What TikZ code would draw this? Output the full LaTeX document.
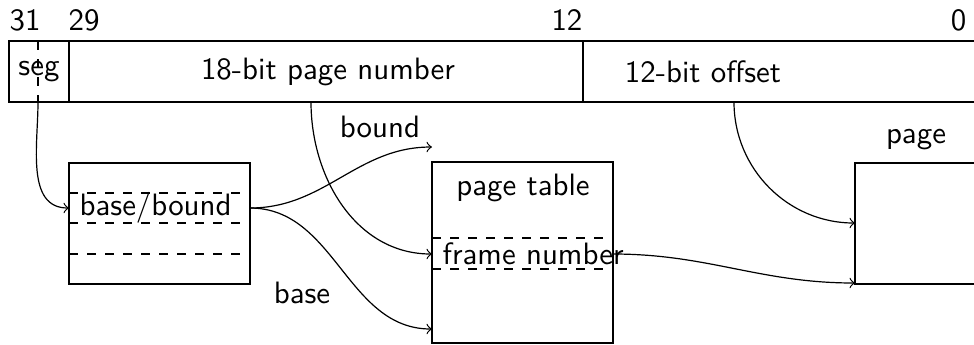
\documentclass[tikz,border=0pt]{standalone}
\usepackage{fontspec}
\begin{document}
\begin{tikzpicture}[x=0.33333pt,y=-0.33333pt,font=\sffamily\fontsize{10.3}{12.4}\selectfont,
  boxline/.style={draw=black,line width=0.4pt},
  rowline/.style={draw=black,dashed,line width=0.4pt},
  link/.style={->,line width=0.4pt},
  num/.style={inner sep=0pt},
  txt/.style={inner sep=3.33pt}]
\useasboundingbox (0,0) rectangle (974,344);
\begin{scope}
\clip (0,0) rectangle (974,344);
% address bar
\draw[boxline] (9,41) rectangle (1000,102);
\draw[boxline] (69,41) -- (69,102);
\draw[boxline] (583,41) -- (583,102);
\draw[rowline] (38,41) -- (38,102);
% base/bound table
\draw[boxline] (69,163) rectangle (250,284);
\draw[rowline] (69,193) -- (250,193);
\draw[rowline] (69,223) -- (250,223);
\draw[rowline] (69,254) -- (250,254);
% page table
\draw[boxline] (432,162) rectangle (613,343);
\draw[rowline] (432,238) -- (613,238);
\draw[rowline] (432,269) -- (613,269);
% page
\draw[boxline] (855,163) rectangle (1000,284);
\end{scope}
% bit numbers
\node[num,anchor=base west] (b31) at (9,30) {31};
\node[num,anchor=base west] (b29) at (68,30) {29};
\node[num,anchor=base east] (b12) at (583,30) {12};
\node[num,anchor=base east] (b0) at (967,30) {0};
% field texts
\node[txt] (seg) at (39,72) {seg};
\node[txt] (pn) at (328,72) {18-bit page number};
\node[txt] (off) at (703,72) {12-bit offset};
% other labels
\node[txt] (bb) [anchor=west] at (69,208) {base/bound};
\node[txt] (fn) [anchor=west] at (432,254) {frame number};
\node[txt] (pt) at (523,188) {page table};
\node[txt] (pg) at (916,140) {page};
\node[txt] (boundl) at (380,127) {bound};
\node[txt] (basel) at (302,293) {base};
% connector end points
\coordinate (segout) at (38,102);
\coordinate (pnout) at (311,102);
\coordinate (offout) at (734,102);
\coordinate (bbR) at (250,208);
\coordinate (boundtip) at (432,147);
\coordinate (basetip) at (432,329);
\coordinate (ptR) at (613,254);
\coordinate (pageA) at (855,223);
\coordinate (pageB) at (855,283);
% connectors
\draw[link] (segout) to[out=-90,in=180] (bb.west);
\draw[link] (bbR) to[out=0,in=180] (boundtip);
\draw[link] (bbR) to[out=0,in=180] (basetip);
\draw[link] (pnout) to[out=-90,in=180] (fn.west);
\draw[link] (ptR) to[out=0,in=180] (pageB);
\draw[link] (offout) to[out=-90,in=180] (pageA);
\end{tikzpicture}
\end{document}
